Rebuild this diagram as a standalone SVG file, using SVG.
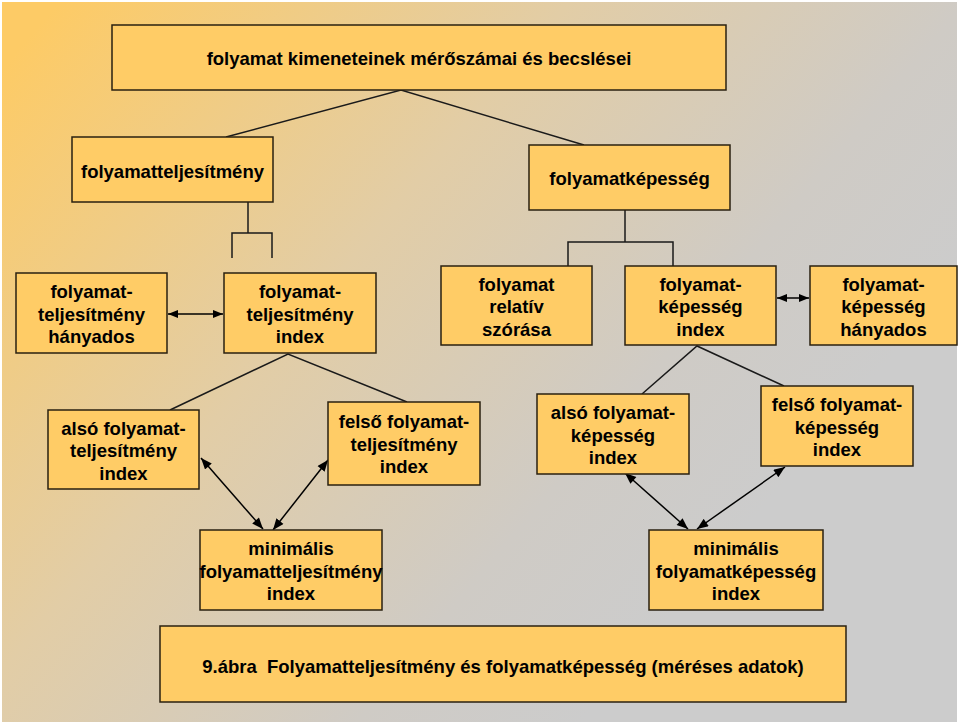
<svg xmlns="http://www.w3.org/2000/svg" width="960" height="724" viewBox="0 0 960 724">
<defs>
<linearGradient id="bg" gradientUnits="userSpaceOnUse" x1="60" y1="0" x2="720" y2="560">
<stop offset="0" stop-color="#FDCB66"/>
<stop offset="0.45" stop-color="#E2CDA6"/>
<stop offset="0.8" stop-color="#CFCBC5"/>
<stop offset="1" stop-color="#CCCCCC"/>
</linearGradient>
<marker id="ah" viewBox="0 0 10 8" refX="10" refY="4" markerWidth="12" markerHeight="9" markerUnits="userSpaceOnUse" orient="auto-start-reverse">
<path d="M0,0 L10,4 L0,8 Z" fill="#000"/>
</marker>
<marker id="ahs" viewBox="0 0 10 8" refX="10" refY="4" markerWidth="10" markerHeight="8" markerUnits="userSpaceOnUse" orient="auto-start-reverse">
<path d="M0,0 L10,4 L0,8 Z" fill="#000"/>
</marker>
</defs>
<style>
.box{fill:#FFCC66;stroke:#2a2010;stroke-width:1.5}
.t{font-family:"Liberation Sans",Arial,sans-serif;font-weight:bold;font-size:18.5px;fill:#000;text-anchor:middle}
.ln{stroke:#1a1a1a;stroke-width:1.5;fill:none}
.ar{stroke:#000;stroke-width:1.5;fill:none;marker-start:url(#ah);marker-end:url(#ah)}
.ars{stroke:#000;stroke-width:1.5;fill:none;marker-start:url(#ahs);marker-end:url(#ahs)}
</style>
<rect x="0" y="0" width="960" height="724" fill="#FFFFFF"/>
<rect x="2" y="2" width="955" height="720" fill="url(#bg)"/>

<g id="connectors">
<polyline class="ln" points="226,137 401,90 584,145"/>
<line class="ln" x1="248" y1="202" x2="248" y2="233"/>
<polyline class="ln" points="232,258 232,233 272,233 272,258"/>
<line class="ln" x1="625" y1="210" x2="625" y2="242"/>
<polyline class="ln" points="568,266 568,242 673,242 673,266"/>
<polyline class="ln" points="170,410 288,354 407,402"/>
<polyline class="ln" points="642,394 697,346 784,386"/>
<line class="ars" x1="168" y1="314" x2="223" y2="314"/>
<line class="ars" x1="777" y1="298" x2="809" y2="298"/>
<line class="ar" x1="201" y1="458" x2="263" y2="529"/>
<line class="ar" x1="328" y1="460" x2="273" y2="530"/>
<line class="ar" x1="625" y1="473" x2="688" y2="529"/>
<line class="ar" x1="785" y1="467" x2="697" y2="529"/>
</g>

<g id="n-top">
<rect class="box" x="112" y="25" width="614" height="65"/>
<text class="t" x="419" y="65">folyamat kimeneteinek mérőszámai és becslései</text>
</g>
<g id="n-teljesitmeny">
<rect class="box" x="72" y="137" width="201" height="65"/>
<text class="t" x="172.5" y="178">folyamatteljesítmény</text>
</g>
<g id="n-kepesseg">
<rect class="box" x="529" y="145" width="201" height="65"/>
<text class="t" x="629.5" y="185">folyamatképesség</text>
</g>

<g id="n-telj-hanyados">
<rect class="box" x="16" y="273" width="151" height="80"/>
<text class="t" x="91.5" y="298">folyamat-</text>
<text class="t" x="91.5" y="320.5">teljesítmény</text>
<text class="t" x="91.5" y="343">hányados</text>
</g>
<g id="n-telj-index">
<rect class="box" x="224" y="273" width="152" height="80"/>
<text class="t" x="300" y="298">folyamat-</text>
<text class="t" x="300" y="320.5">teljesítmény</text>
<text class="t" x="300" y="343">index</text>
</g>
<g id="n-relativ">
<rect class="box" x="441" y="266" width="151" height="79"/>
<text class="t" x="516.5" y="290.5">folyamat</text>
<text class="t" x="516.5" y="313">relatív</text>
<text class="t" x="516.5" y="335.5">szórása</text>
</g>
<g id="n-kep-index">
<rect class="box" x="625" y="266" width="151" height="79"/>
<text class="t" x="700.5" y="290.5">folyamat-</text>
<text class="t" x="700.5" y="313">képesség</text>
<text class="t" x="700.5" y="335.5">index</text>
</g>
<g id="n-kep-hanyados">
<rect class="box" x="810" y="266" width="147" height="79"/>
<text class="t" x="883.5" y="290.5">folyamat-</text>
<text class="t" x="883.5" y="313">képesség</text>
<text class="t" x="883.5" y="335.5">hányados</text>
</g>

<g id="n-also-telj">
<rect class="box" x="48" y="410" width="151" height="79"/>
<text class="t" x="123.5" y="434.5">alsó folyamat-</text>
<text class="t" x="123.5" y="457">teljesítmény</text>
<text class="t" x="123.5" y="479.5">index</text>
</g>
<g id="n-felso-telj">
<rect class="box" x="328" y="402" width="152" height="83"/>
<text class="t" x="404" y="428">felső folyamat-</text>
<text class="t" x="404" y="450.5">teljesítmény</text>
<text class="t" x="404" y="473">index</text>
</g>
<g id="n-also-kep">
<rect class="box" x="537" y="394" width="152" height="80"/>
<text class="t" x="613" y="419">alsó folyamat-</text>
<text class="t" x="613" y="441.5">képesség</text>
<text class="t" x="613" y="464">index</text>
</g>
<g id="n-felso-kep">
<rect class="box" x="761" y="386" width="152" height="80"/>
<text class="t" x="837" y="411">felső folyamat-</text>
<text class="t" x="837" y="433.5">képesség</text>
<text class="t" x="837" y="456">index</text>
</g>

<g id="n-min-telj">
<rect class="box" x="200" y="530" width="182" height="80"/>
<text class="t" x="291" y="555">minimális</text>
<text class="t" x="291" y="577.5">folyamatteljesítmény</text>
<text class="t" x="291" y="600">index</text>
</g>
<g id="n-min-kep">
<rect class="box" x="649" y="530" width="174" height="80"/>
<text class="t" x="736" y="555">minimális</text>
<text class="t" x="736" y="577.5">folyamatképesség</text>
<text class="t" x="736" y="600">index</text>
</g>

<g id="n-caption">
<rect class="box" x="160" y="626" width="686" height="76"/>
<text class="t" x="503" y="673" xml:space="preserve">9.ábra  Folyamatteljesítmény és folyamatképesség (méréses adatok)</text>
</g>
</svg>
